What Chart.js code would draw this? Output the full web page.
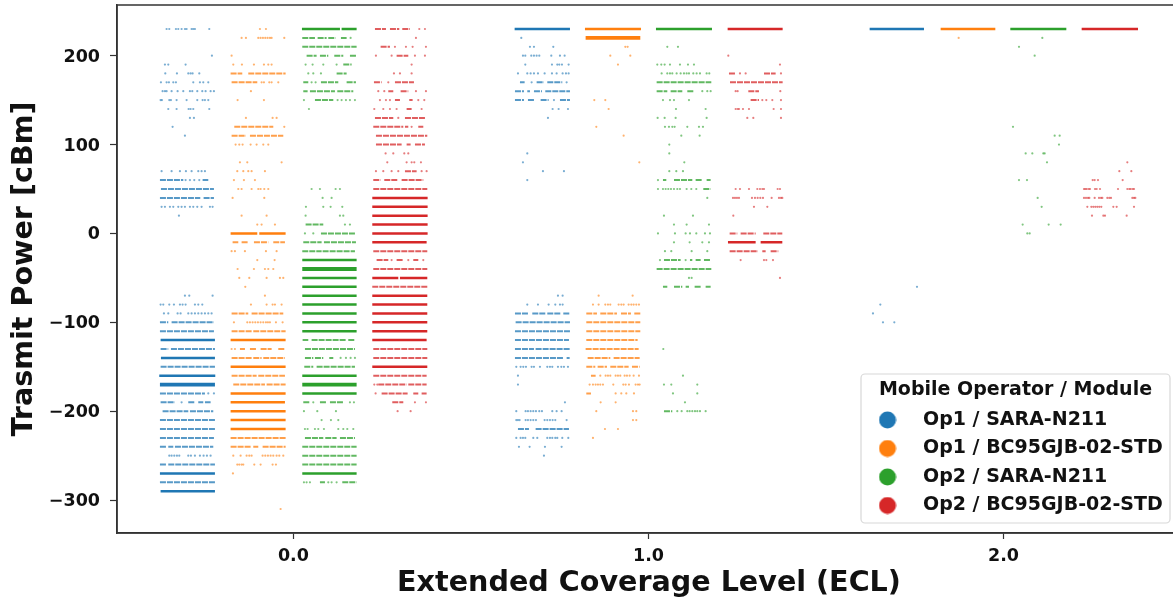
<!DOCTYPE html>
<html>
<head>
<meta charset="utf-8">
<title>Transmit power per coverage level</title>
<script src="https://cdn.jsdelivr.net/npm/chart.js@4/dist/chart.umd.min.js"></script>
<style>
    html, body { margin: 0; background: #fff; overflow: hidden; }
    #wrap { width: 1173px; height: 603px; overflow: hidden; }
    canvas { display: block; filter: blur(0.35px); }
</style>
</head>
<body>
<div id="wrap"><canvas id="powerChart" width="1195" height="603"></canvas></div>
<script>
const seriesNames = ['Op1 / SARA-N211', 'Op1 / BC95GJB-02-STD', 'Op2 / SARA-N211', 'Op2 / BC95GJB-02-STD'];
const seriesColors = ['#1f77b4', '#ff7f0e', '#2ca02c', '#d62728'];
const eclLevels = [0, 1, 2];
const eclTickLabels = ['0.0', '1.0', '2.0'];
const powerTicks = [-300, -200, -100, 0, 100, 200];
const dodgeOffsets = [-0.3, -0.1, 0.1, 0.3];

// Dots = single samples, the other arrays are [power, from, to, from, to, ...] runs of
// samples too close together to tell apart: hazy = broken up, solid = closed, thick = stacked.
const op1SaraEcl0Dots = [
    [230, -61, -53, -33, -26, -16, -6, -1, 14, 19, 24, 67], [200, 75], [190, -66, -56, -4],
    [180, -65, -30, 4, 11, 17, 37], [170, -78, -61, -54, -41, -33, 19, 39, 49, 64],
    [160, -73, -66, -61, -46, -28, -11, 9, 16, 31, 46, 56, 71, 81],
    [150, -79, -75, -53, -48, -31, -1, 31, 47, 54, 64], [140, -56, -31, 5, 11, 19, 67],
    [130, 9, 21], [120, -43], [110, -6], [70, -76, -46, -21, -3, 14, 34, 44, 54],
    [60, -4, 9, 22, 37], [30, -76, -66, -51, -41, -26, -16, -6, 9, 19, 31, 44, 69, 77], [20, -24],
    [-70, -6, 7, 77], [-80, -79, -71, -53, -39, -21, -13, -4, 24, 34, 46],
    [-90, -69, -56, -28, -19, 4, 14, 24, 34, 44, 54, 64, 74], [-180, 64, 81], [-190, -16],
    [-250, -53, -46, -38, -30, -23, 4, 12, 24, 39, 50, 60, 71]
];
const op1SaraEcl0Hazy = [
    [60, -81, -11, 47, 64], [50, -78, 81], [40, -81, 40, 50, 81], [-100, -81, -56, -46, 81],
    [-110, -81, 81], [-130, -79, -56, -48, 84], [-150, -79, 84], [-180, -81, 54],
    [-190, -79, -36, 4, 24, 34, 49, 54, 71], [-200, -73, 4, 9, 79], [-210, -81, 84], [-220, -81, 84],
    [-230, -81, 81], [-240, -81, -61, -56, -41, -36, 79], [-260, -81, -61, -56, 84], [-280, -81, 84]
];
const op1SaraEcl0Solid = [[-120, -79, 84], [-140, -78, 84], [-160, -83, 85], [-270, -81, 84], [-290, -79, 84]];
const op1SaraEcl0Thick = [[-170, -81, 84]];

const op1Bc95Ecl0Dots = [
    [230, 6, 24], [220, -49, -36, 1, 8, 15, 22, 29, 36, 41, 79], [200, -79],
    [190, -74, -48, -12, 18, 31, 41], [170, 11, 18, 34, 41, 61], [160, -21], [150, -61, 18],
    [130, -36, 44, 56], [120, 79], [100, -67, -56, -46, -22, -4, 16, 31], [80, -54, -32, 71],
    [70, -62, -44, -29, -19, 21], [60, -72, -42, -9], [50, -59, -49, -19, 1, 8, 19, 31], [40, -76, 19],
    [20, -49, 26], [10, -2, 11, 51], [-20, -79, -69, -39, 24, 56], [-30, -2, 50],
    [-40, -61, -12, 21, 31, 46], [-50, -56, -26, 26, 66, 76], [-60, -38], [-70, 21],
    [-80, -21, 26, 44, 51, 71], [-100, -72, -32, -24, -16, -8, 0, 8, 16, 24, 30, 36, 54, 74],
    [-130, -79, -69], [-250, -74, -52, -34, -26, -19, 14, 22, 30, 38, 46, 56, 64, 76],
    [-260, -62, -56, -49, -44, -11, 8, 44, 54], [-270, -75], [-310, 68]
];
const op1Bc95Ecl0Hazy = [
    [180, -82, -47, -29, 83], [170, -79, -2], [120, -71, 46], [110, -79, -36, -24, 76],
    [-10, -76, -59, -49, -29, -12, 31, 46, 81], [-90, -79, -29, -19, 76], [-110, -79, -19, -14, 83],
    [-130, -54, -39, -24, -6, 8, 41, 61, 81], [-140, -79, -19, -14, 11, 16, 81],
    [-160, -79, -4, 1, 81], [-170, -74, 21, 26, 83], [-230, -82, 83], [-240, -82, -19, -14, 1, 14, 83]
];
const op1Bc95Ecl0Solid = [
    [0, -82, -2, 4, 83], [-120, -82, 83], [-150, -82, 83], [-180, -82, 83], [-190, -82, 81],
    [-200, -82, 83], [-210, -82, 83], [-220, -82, 83]
];

const op2SaraEcl0Dots = [
    [220, 65], [190, -70, -49, -17, 23], [180, -62, -47, -24], [170, -52, -40],
    [150, -75, 26, 38, 51, 63, 78], [140, -60], [50, -52, -27, 20, 33], [40, -19, 8],
    [30, -69, -17, 5, 40], [20, -70, 33, 43], [10, 48, 63], [0, -72, -47],
    [-140, 35, 51, 65, 78], [-190, -47, 63, 75], [-200, -75, -35, 21], [-210, -22, 6, 28],
    [-220, -72, -64, -42, -32, -15, 28, 43, 55, 73], [-280, -75, -67, -57, -2, 8, 23]
];
const op2SaraEcl0Hazy = [
    [220, -80, -42, -34, -7, -2, 20, 36, 53], [210, -80, 83], [200, -67, -37, -27, -2, 16, 43, 63, 83],
    [190, 43, 68], [180, 23, 53], [170, -77, -62, -24, 28, 53, 81], [160, -77, -64, -57, 18, 25, 73],
    [150, -42, 13], [10, -70, -17], [0, -24, 81], [-10, -77, -22, -15, 81], [-20, -80, -22, -19, 78],
    [-120, -79, -62, -52, 53, 58, 78], [-130, -72, 78], [-140, -72, -47, -42, -17, 1, 13],
    [-150, -74, -47, -37, 78], [-190, -77, -57, -27, -7, 3, 45], [-230, -72, -17, -11, 23, 33, 78],
    [-240, -80, 83], [-250, -80, 83], [-260, -80, 83], [-280, -27, -12, 40, 83]
];
const op2SaraEcl0Solid = [
    [230, -81, 33, 38, 83], [-30, -80, 83], [-50, -80, 83], [-60, -80, 83], [-70, -80, 83],
    [-80, -80, 83], [-90, -80, 83], [-100, -80, 83], [-110, -80, 83], [-160, -80, 83],
    [-180, -80, 83], [-270, -80, 83]
];
const op2SaraEcl0Thick = [[-40, -80, 83], [-170, -80, 83]];

const op2Bc95Ecl0Dots = [
    [230, 58, 75], [220, 48], [210, -15, 18, 38, 78], [200, -72, -25, 45, 75], [190, 35],
    [180, -18, 0, 35], [170, -35], [160, -65, -47, 48, 78], [150, -60, -42, -30, 55, 73],
    [140, -77, -50, -30, -10, 65], [130, -5], [120, 35], [90, -43, -20, 13, 25],
    [80, -38, 20, 35, 43, 63], [70, -72, -50, -25, -5, 65, 80], [-30, -25, 25, 70],
    [-170, -77, -68], [-180, -73], [-190, 45, 78], [-200, -7, 32]
];
const op2Bc95Ecl0Hazy = [
    [230, -75, -42, -30, -2, 7, 30], [210, -58, -30], [200, -10, 25], [170, -78, -55, -15, 42],
    [160, -35, -20, 2, 25], [150, -15, 0, 28, 38], [140, 20, 35], [130, -75, -20, 15, 78],
    [120, -80, 10, 15, 25, 55, 70], [110, -72, 82], [100, -72, 5, 20, 32, 45, 75], [70, 15, 50],
    [60, -80, -58, -47, -5, 5, 70], [50, -80, 82], [-20, -80, 82], [-30, -70, -35, -10, 10, 40, 55],
    [-40, -80, 82], [-60, -83, 82], [-130, -80, 82], [-140, -80, 82], [-160, -80, 80],
    [-170, -65, 20, 25, 80], [-180, -55, 23, 40, 55, 65, 80], [-190, -23, 10]
];
const op2Bc95Ecl0Solid = [
    [40, -83, 83], [30, -83, 83], [20, -83, 83], [10, -83, 83], [0, -83, 83], [-10, -83, 80],
    [-50, -83, -5, 0, 82], [-70, -83, 82], [-80, -83, 82], [-90, -83, 82], [-100, -83, 82],
    [-110, -83, 82], [-120, -83, 80], [-150, -83, 82]
];

const op1SaraEcl1Dots = [
    [220, -62], [210, -36, -24, 34], [200, -57, -50, -32, -24, -16, -8, 28, 54, 68],
    [190, -50, 30, 46, 52, 60, 80], [180, -72, -44, -34, -24, -12, 8, 30, 44, 62, 72, 80],
    [170, -31, 74], [150, 36], [140, 32, 50, 78], [130, 18], [90, -44], [80, -57], [70, 3, 66], [60, -44],
    [-70, 48, 62], [-80, -44, -12, 20, 40, 54, 62],
    [-150, -77, -64, -56, -48, -31, -24, -6, 16, 24, 31, 48, 58, 66, 78], [-160, -72], [-170, -72],
    [-190, 69], [-200, -77, -49, -42, -34, -26, -18, -8, 0, 31, 44, 59],
    [-210, -77, -72, -67, -49, -42, -34, -26, -18, 8, 16, 24, 32, 40, 74],
    [-230, -77, -64, -57, -50, -26, -14, 16, 24, 31, 40, 46, 61, 79], [-240, -69, -37, 9, 59], [-250, 6]
];
const op1SaraEcl1Hazy = [
    [170, -66, -52, -16, 6, 16, 61], [160, -81, -54, -44, -36, -24, 0, 10, 84],
    [150, -81, -54, -42, -21, -4, 20, 54, 84], [-90, -81, -39, -29, 11, 16, 56, 64, 83],
    [-100, -79, 84], [-110, -81, 84], [-120, -81, 81], [-130, -81, -24, -19, 84],
    [-140, -81, 66, 74, 83], [-220, -72, -39, -19, 81]
];
const op1SaraEcl1Solid = [[230, -82, 84]];

const op1Bc95Ecl1Dots = [
    [210, 37, 44], [200, -8, 52], [190, 15], [150, -56, -23], [140, -13], [120, -50], [110, 32], [80, 79],
    [-70, -43, 59], [-80, -60, -43, -23, -15, -8, 17, 25, 32, 47, 55, 62, 70, 78],
    [-160, -38, -22, -15, -8, 8, 15, 22, 35, 42, 50, 62, 78],
    [-170, -70, -60, -52, -45, -38, -30, 1, 31, 38, 48, 68, 75, 80], [-180, 8, 25, 40, 63],
    [-190, -37, 8], [-200, -50, 60, 70], [-210, 60, 70], [-220, -24, 15], [-230, -60]
];
const op1Bc95Ecl1Hazy = [
    [-90, -80, -48, -38, 12, 24, 54, 64, 82], [-100, -80, 82], [-110, -80, 82], [-120, -80, 74],
    [-130, -82, 77], [-140, -76, -8, 2, 80], [-150, -80, -53, -46, -18, -8, 47, 57, 80],
    [-160, -66, -52], [-180, -80, -66]
];
const op1Bc95Ecl1Solid = [[230, -84, 84]];
const op1Bc95Ecl1Thick = [[220, -82, 82]];

const op2SaraEcl1Dots = [
    [210, -50, -18], [190, -80, -68, -58, -42, -12, 12, 30],
    [180, -67, -50, -42, -35, -22, -10, 0, 8, 15, 28, 38, 48, 68, 76], [160, 55, 70, 80],
    [150, -63, -42, -30, 15], [140, -24, 65], [130, -79, -58, -25, 68], [120, -57, -45, -35, -28, 10, 45, 57],
    [110, -8, 47], [100, -44], [90, -44], [80, 1], [70, -44, -23, -3], [60, -78],
    [50, -78, -63, -55, -47, -39, -30, -20, -12, 8, 22, 37], [40, 70], [20, -60, 27], [10, -30, 8, 75],
    [0, -78, -27, 5, 18, 37, 63, 78], [-10, -30, 17, 55, 75], [-20, -57, -38, 23, 70], [-30, -72, 5],
    [-50, 15, 23], [-130, -62], [-160, -3], [-170, -60, -38, 40], [-180, -33, 40], [-190, 3],
    [-200, -20, -7, 10, 17, 25, 33, 40, 48, 65]
];
const op2SaraEcl1Hazy = [
    [170, -82, 82], [160, -82, -50, -40, -5, 10, 30], [60, -63, -53, -30, 25, 35, 55, 68, 80], [50, 58, 80],
    [-30, -60, -10, 18, 25, 35, 50, 60, 80], [-40, -82, 82], [-60, -63, -50, -30, -5, 5, 15, 32, 50, 65, 80],
    [-200, -60, -35]
];
const op2SaraEcl1Solid = [[230, -84, 84]];

const op2Bc95Ecl1Dots = [
    [200, -80], [190, 75], [180, -45, -28, 78], [160, -58, -52, 76], [150, 22, 34, 52, 78],
    [140, -58, -52, -48, -36, -18, 56, 78], [130, -23, -5, 78], [50, -58, -45, -18, 7, 15, 22, 27, 68, 75],
    [40, -66, -60, -54, -48, -9, 0, 8, 16, 24, 50, 72, 78, 82], [30, -3, 37], [20, -65],
    [-30, -43, 27, 34, 54], [-50, 75]
];
const op2Bc95Ecl1Hazy = [
    [180, -78, -58, 27, 62], [170, -75, 83], [160, -20, 12], [150, -13, 12],
    [0, -76, -53, -43, 2, 25, 82], [-20, -76, 9, 22, 32, 47, 70]
];
const op2Bc95Ecl1Solid = [[230, -82, 83], [-10, -81, 2, 17, 82]];

const op1SaraEcl2Dots = [[-60, 60], [-80, -50], [-90, -72], [-100, -42, -8]];
const op1SaraEcl2Solid = [[230, -82, 81]];
const op1Bc95Ecl2Dots = [[220, -28]];
const op1Bc95Ecl2Solid = [[230, -82, 82]];
const op2SaraEcl2Dots = [
    [220, 10], [210, -60], [200, -13], [120, -78], [110, 47, 62], [100, 60], [90, -40, -20, 13, 17],
    [80, 24], [60, -60, -36], [40, -4], [30, 8], [10, -49, 29, 65], [0, -35, -28]
];
const op2SaraEcl2Solid = [[230, -86, 82]];
const op2Bc95Ecl2Dots = [
    [80, 52], [70, 28, 64], [60, -52, -46, -36, 38],
    [50, -78, -74, -70, -64, -60, -45, -40, -30, 24, 52, 58, 62, 68, 72],
    [40, -78, -72, -66, -62, -46, -33, -27, -23, -8, -2, 3, 67, 72, 76],
    [30, -68, -56, -50, -44, -38, -32, -26, 10, 20, 72], [20, -54, -20, -15, 50]
];
const op2Bc95Ecl2Solid = [[230, -85, 84]];

const JITTER_UNIT = 1 / 1065;

// series index, ecl index, then the rows for that strip
const strips = [
    [0, 0, op1SaraEcl0Dots, op1SaraEcl0Hazy, op1SaraEcl0Solid, op1SaraEcl0Thick],
    [1, 0, op1Bc95Ecl0Dots, op1Bc95Ecl0Hazy, op1Bc95Ecl0Solid, []],
    [2, 0, op2SaraEcl0Dots, op2SaraEcl0Hazy, op2SaraEcl0Solid, op2SaraEcl0Thick],
    [3, 0, op2Bc95Ecl0Dots, op2Bc95Ecl0Hazy, op2Bc95Ecl0Solid, []],
    [0, 1, op1SaraEcl1Dots, op1SaraEcl1Hazy, op1SaraEcl1Solid, []],
    [1, 1, op1Bc95Ecl1Dots, op1Bc95Ecl1Hazy, op1Bc95Ecl1Solid, op1Bc95Ecl1Thick],
    [2, 1, op2SaraEcl1Dots, op2SaraEcl1Hazy, op2SaraEcl1Solid, []],
    [3, 1, op2Bc95Ecl1Dots, op2Bc95Ecl1Hazy, op2Bc95Ecl1Solid, []],
    [0, 2, op1SaraEcl2Dots, [], op1SaraEcl2Solid, []],
    [1, 2, op1Bc95Ecl2Dots, [], op1Bc95Ecl2Solid, []],
    [2, 2, op2SaraEcl2Dots, [], op2SaraEcl2Solid, []],
    [3, 2, op2Bc95Ecl2Dots, [], op2Bc95Ecl2Solid, []]
];

function dotPoints(series, rows, ecl) {
    const points = [];
    rows.forEach(([power, ...jitters]) => {
        jitters.forEach(j => {
            points.push({ x: ecl + dodgeOffsets[series] + j * JITTER_UNIT, y: power });
        });
    });
    return points;
}

function runPoints(series, rows, ecl) {
    const points = [];
    rows.forEach(([power, ...ends]) => {
        for (let i = 0; i < ends.length; i += 2) {
            const base = ecl + dodgeOffsets[series];
            points.push({ x: base + ends[i] * JITTER_UNIT, y: power });
            points.push({ x: base + ends[i + 1] * JITTER_UNIT, y: power });
            points.push({ x: base + ends[i + 1] * JITTER_UNIT, y: null }); // break the line
        }
    });
    return points;
}

function hexToRgba(hex, alpha) {
    const n = parseInt(hex.slice(1), 16);
    return `rgba(${n >> 16}, ${(n >> 8) & 255}, ${n & 255}, ${alpha})`;
}

function buildDatasets() {
    const datasets = [];
    seriesNames.forEach((name, s) => {
        const own = strips.filter(strip => strip[0] === s);
        const gather = (column, fn) => own.flatMap(strip => fn(s, strip[column], eclLevels[strip[1]]));
        const runStyle = { type: 'scatter', showLine: true, pointRadius: 0, spanGaps: false };

        datasets.push({ ...runStyle, label: name + ' hazy', data: gather(3, runPoints),
            borderColor: hexToRgba(seriesColors[s], 0.75), borderWidth: 2, borderDash: [6, 1] });
        datasets.push({ ...runStyle, label: name + ' solid', data: gather(4, runPoints),
            borderColor: seriesColors[s], borderWidth: 2.5 });
        datasets.push({ ...runStyle, label: name + ' thick', data: gather(5, runPoints),
            borderColor: seriesColors[s], borderWidth: 3.8 });
        datasets.push({ type: 'scatter', label: name, data: gather(2, dotPoints), pointRadius: 1.1,
            pointBorderWidth: 0, pointBackgroundColor: hexToRgba(seriesColors[s], 0.6) });
    });
    return datasets;
}

function legendDot(color) {
    const dot = document.createElement('canvas');
    dot.width = dot.height = 18;
    const ctx = dot.getContext('2d');
    ctx.fillStyle = color;
    ctx.beginPath();
    ctx.arc(9, 9, 8.5, 0, Math.PI * 2);
    ctx.fill();
    return dot;
}

// legend sits inside the axes, lower right, with a frame round it
const legendFrame = {
    id: 'legendFrame',
    afterLayout(chart) {
        const legend = chart.legend;
        legend.left = 852;
        legend.top = 374;
        legend.right = 1179;
        legend.bottom = 590; // roomy, or the legend wraps its last entry to a new column
        legend.width = 327;
        legend.height = 216;
    },
    beforeDraw(chart) {
        const ctx = chart.ctx;
        ctx.save();
        ctx.strokeStyle = '#d8d8d8';
        ctx.lineWidth = 1.2;
        ctx.beginPath();
        ctx.roundRect(861, 374, 309, 149, 4);
        ctx.stroke();
        ctx.restore();
    }
};

// top and right spines
const axesBox = {
    id: 'axesBox',
    afterDraw(chart) {
        const { ctx, chartArea: a } = chart;
        ctx.save();
        ctx.strokeStyle = '#333';
        ctx.lineWidth = 1.5;
        ctx.strokeRect(a.left, a.top, a.right - a.left, a.bottom - a.top);
        ctx.restore();
    }
};

const tickFont = { family: 'DejaVu Sans', weight: 'bold', size: 17.5 };
const titleFont = { family: 'DejaVu Sans', weight: 'bold', size: 28.6 };

new Chart(document.getElementById('powerChart'), {
    type: 'scatter',
    data: { datasets: buildDatasets() },
    plugins: [legendFrame, axesBox],
    options: {
        responsive: false,
        animation: false,
        events: [],
        layout: { autoPadding: false, padding: { top: 5, right: 14, left: 0, bottom: 0 } },
        scales: {
            x: {
                type: 'linear',
                min: -0.497,
                max: 2.5,
                afterFit(scale) { scale.height = 70; scale.paddingLeft = 0; scale.paddingRight = 0; },
                afterBuildTicks(scale) { scale.ticks = eclLevels.map(value => ({ value })); },
                ticks: {
                    font: tickFont, color: '#111', padding: 7, maxRotation: 0,
                    callback: (value) => eclTickLabels[eclLevels.indexOf(value)]
                },
                grid: { drawOnChartArea: false, tickLength: 6, tickColor: '#333', tickWidth: 1.2 },
                border: { color: '#333', width: 1.5 },
                title: { display: true, text: 'Extended Coverage Level (ECL)', font: titleFont,
                    color: '#111', padding: { top: 0, bottom: 2 } }
            },
            y: {
                type: 'linear',
                min: -337,
                max: 257,
                afterFit(scale) { scale.width = 117; scale.paddingTop = 0; scale.paddingBottom = 0; },
                afterBuildTicks(scale) { scale.ticks = powerTicks.map(value => ({ value })); },
                ticks: {
                    font: tickFont, color: '#111', padding: 10, labelOffset: 1.5,
                    callback: (value) => String(value).replace('-', '\u2212')
                },
                grid: { drawOnChartArea: false, tickLength: 7, tickColor: '#333', tickWidth: 1.2 },
                border: { color: '#333', width: 1.5 },
                title: { display: true, text: 'Trasmit Power [cBm]', font: titleFont,
                    color: '#111', padding: { top: 7, bottom: 0 } }
            }
        },
        plugins: {
            tooltip: { enabled: false },
            legend: {
                position: 'chartArea',
                align: 'start',
                title: { display: true, text: 'Mobile Operator / Module', color: '#111',
                    font: { family: 'DejaVu Sans', weight: 'bold', size: 19, lineHeight: 1 },
                    padding: { top: 7, bottom: 1 } },
                labels: {
                    usePointStyle: true,
                    pointStyleWidth: 52,
                    boxHeight: 12,
                    padding: 9.5,
                    color: '#111',
                    font: { family: 'DejaVu Sans', weight: 'bold', size: 19 },
                    generateLabels: () => seriesNames.map((text, i) => ({
                        text, pointStyle: legendDot(seriesColors[i]), fillStyle: seriesColors[i],
                        strokeStyle: seriesColors[i], lineWidth: 0, hidden: false, datasetIndex: i
                    }))
                }
            }
        }
    }
});
</script>
</body>
</html>
